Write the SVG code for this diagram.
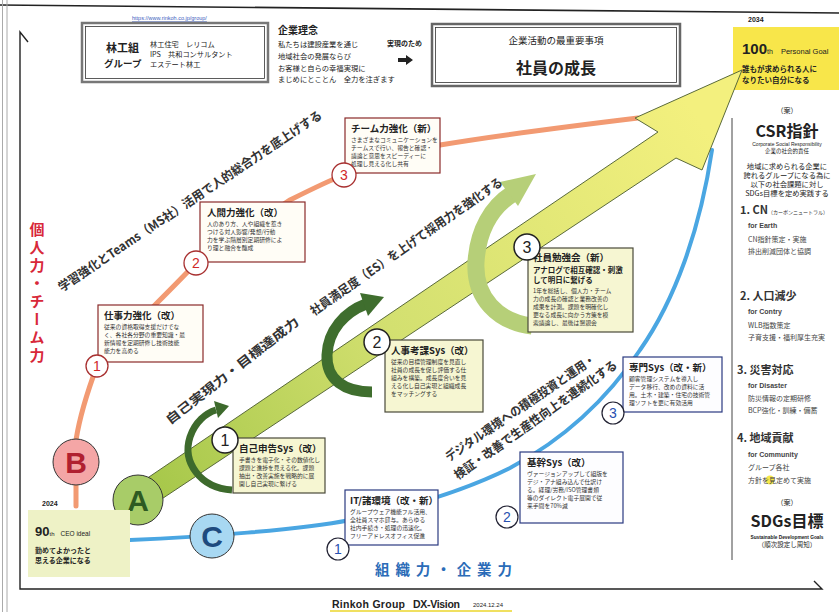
<svg xmlns="http://www.w3.org/2000/svg" width="839" height="612" viewBox="0 0 839 612">
<defs>
<style>
text{font-family:'Noto Sans CJK JP','Noto Sans',sans-serif;fill:#222}
.b{font-weight:bold}
.body{font-size:5.8px;fill:#333}
.ttl{font-size:9.5px;font-weight:bold;fill:#222}
.rbox{fill:#fffdf6;stroke:#8a2a2a;stroke-width:1.2}
.ybox{fill:#f6f6d2;stroke:#4a4a3a;stroke-width:1.2}
.bbox{fill:#fdfdff;stroke:#2a3a80;stroke-width:1.2}
.rc{fill:#fff;stroke:#a83030;stroke-width:1.3}
.rn{font-family:'Liberation Sans',sans-serif;font-size:14px;fill:#d02828;text-anchor:middle}
.yc{fill:#fff;stroke:#222;stroke-width:1.5}
.yn{font-family:'Liberation Sans',sans-serif;font-size:16px;fill:#222;text-anchor:middle}
.bc{fill:#fff;stroke:#223;stroke-width:1.2}
.bn{font-family:'Liberation Sans',sans-serif;font-size:14px;fill:#2850b0;text-anchor:middle}
.diag{font-size:12.5px;font-weight:bold;fill:#333}
.csr{font-size:7px;fill:#444}
.csrh{font-size:11px;font-weight:bold;fill:#333}
.lat{font-family:'Liberation Sans',sans-serif}
.big{font-family:'Liberation Sans',sans-serif;font-weight:bold;font-size:30px;text-anchor:middle}
</style>
<linearGradient id="shaft" gradientUnits="userSpaceOnUse" x1="140" y1="500" x2="700" y2="120">
<stop offset="0" stop-color="#a4c648"/>
<stop offset="0.45" stop-color="#d3e070"/>
<stop offset="1" stop-color="#f3f07e"/>
</linearGradient>
</defs>
<rect width="839" height="612" fill="#fff"/>

<g id="frame" fill="none">
<line x1="0" y1="5" x2="839" y2="13" stroke="#222" stroke-width="1.6"/>
<line x1="2.5" y1="0" x2="2.5" y2="612" stroke="#aaa" stroke-width="1"/>
<line x1="7" y1="0" x2="7" y2="612" stroke="#aaa" stroke-width="1"/>
<polyline points="28,42 20,32 20,589 822,589 814,581" stroke="#222" stroke-width="1.4"/>
<line x1="732" y1="118" x2="732" y2="560" stroke="#444" stroke-width="1"/>
</g>

<g id="header-group">
<text x="132" y="20" class="lat" font-size="5.5" text-decoration="underline" style="fill:#4060c0">https://www.rinkoh.co.jp/group/</text>
<rect x="82" y="23" width="186" height="59" fill="#fff" stroke="#777" stroke-width="2.5"/>
<rect x="85.5" y="26.5" width="179" height="52" fill="none" stroke="#333" stroke-width="0.8"/>
<text x="106" y="52" class="b" font-size="11">林工組</text>
<text x="104" y="67" class="b" font-size="9.5">グループ</text>
<text x="150" y="47" font-size="7.2">林工住宅　レリコム</text>
<text x="150" y="57" font-size="7.2">IPS　共和コンサルタント</text>
<text x="150" y="67" font-size="7.2">エステート林工</text>
</g>

<g id="philosophy">
<text x="278" y="34" class="b" font-size="10">企業理念</text>
<text x="278" y="47" font-size="7.3">私たちは建設産業を通じ</text>
<text x="278" y="59" font-size="7.3">地域社会の発展ならび</text>
<text x="278" y="71" font-size="7.3">お客様と自らの幸福実現に</text>
<text x="278" y="82" font-size="7.3">まじめにとことん　全力を注ぎます</text>
<text x="387" y="46" class="b" font-size="7">実現のため</text>
<polygon points="398,58 406,58 406,55 413,60 406,65 406,62 398,62" fill="#222"/>
</g>

<g id="priority">
<rect x="432" y="24" width="248" height="62" fill="#fff" stroke="#666" stroke-width="2.5"/>
<rect x="435.5" y="27.5" width="241" height="55" fill="none" stroke="#333" stroke-width="0.8"/>
<text x="556" y="44" font-size="9.5" text-anchor="middle">企業活動の最重要事項</text>
<text x="556" y="74" class="b" font-size="16" text-anchor="middle">社員の成長</text>
</g>

<g id="goal-2034">
<text x="748" y="22" class="b lat" font-size="7">2034</text>
<rect x="733" y="27" width="106" height="63" fill="#f8e64a"/>
<text x="742" y="54" class="b lat" font-size="15">100<tspan font-size="7" font-weight="normal">th</tspan><tspan font-size="7.5" font-weight="normal" dx="8">Personal Goal</tspan></text>
<text x="742" y="72" class="b" font-size="7.5">誰もが求められる人に</text>
<text x="742" y="83" class="b" font-size="7.5">なりたい自分になる</text>
</g>

<g id="connectors" fill="none" stroke-linecap="round">
<path d="M76,506 L76,440 C80,415 88,390 97,366 L150,310 C170,290 185,275 196,263 L290,200 C310,190 330,180 344,175 L440,145 C500,135 580,125 638,118" stroke="#f29a72" stroke-width="5"/>
<path d="M130,540 C200,537 300,530 350,520 C420,505 470,488 510,468 C570,436 610,395 640,350 C675,300 700,230 712,150" stroke="#4aa6e2" stroke-width="4"/>
</g>

<g id="main-arrow">
<polygon points="130,520 118,498 658,132 635,118 742,70 702,170 676,158" fill="url(#shaft)" stroke="#5a6a3a" stroke-width="1"/>
</g>

<g id="cycle-arrows">
<path d="M232,490 C200,488 182,462 190,437 C195,422 206,413 216,410" fill="none" stroke="#3d6a2c" stroke-width="7"/>
<polygon points="214,401 229,406 218,418" fill="#3d6a2c"/>
<path d="M372,392 C345,392 326,380 327,355 C328,330 345,312 366,304" fill="none" stroke="#3f6e2e" stroke-width="11"/>
<polygon points="360,293 384,297 368,316" fill="#3f6e2e"/>
<path d="M532,326 C498,322 474,298 476,262 C478,230 492,207 512,194" fill="none" stroke="#b6cf78" stroke-width="17"/>
<polygon points="500,182 536,174 518,206" fill="#b6cf78"/>
</g>

<g id="node-B"><circle cx="76" cy="462" r="23" fill="#f4a6a6" stroke="#333" stroke-width="1"/><text x="76" y="473" class="big" style="fill:#b02030">B</text></g>
<g id="node-A"><circle cx="138" cy="500" r="25" fill="#a8cc68" stroke="#333" stroke-width="1"/><text x="138" y="511" class="big" style="fill:#2e5a22">A</text></g>
<g id="node-C"><circle cx="212" cy="536" r="22" fill="#a8d8f2" stroke="#333" stroke-width="1"/><text x="212" y="547" class="big" style="fill:#1e4a7e">C</text></g>

<g id="node-90th">
<text x="42" y="506" class="b lat" font-size="7">2024</text>
<rect x="28" y="510" width="102" height="67" fill="#eef2c6"/>
<text x="35" y="536" class="b lat" font-size="13">90<tspan font-size="6" font-weight="normal">th</tspan><tspan font-size="6.5" font-weight="normal" dx="6">CEO ideal</tspan></text>
<text x="35" y="553" class="b" font-size="7">勤めてよかったと</text>
<text x="35" y="563" class="b" font-size="7">思える企業になる</text>
</g>

<g id="node-work">
<rect x="98" y="305" width="105" height="57" class="rbox"/>
<text x="104" y="319" class="ttl">仕事力強化（改）</text>
<text x="104" y="329" class="body">従来の資格取得支援だけでな</text>
<text x="104" y="337" class="body">く、各社各分野の重要知識・最</text>
<text x="104" y="345" class="body">新情報を定期研修し技術技能</text>
<text x="104" y="353" class="body">能力を高める</text>
<circle cx="97" cy="366" r="11" class="rc"/><text x="97" y="371" class="rn">1</text>
</g>
<g id="node-human">
<rect x="200" y="202" width="105" height="60" class="rbox"/>
<text x="207" y="216" class="ttl">人間力強化（改）</text>
<text x="207" y="226" class="body">人のあり方、人や組織を惹き</text>
<text x="207" y="234" class="body">つける対人影響/発想/行動</text>
<text x="207" y="242" class="body">力を学ぶ階層別定期研修によ</text>
<text x="207" y="250" class="body">り理と融合を醸成</text>
<circle cx="196" cy="263" r="12" class="rc"/><text x="196" y="268" class="rn">2</text>
</g>
<g id="node-team">
<rect x="345" y="118" width="95" height="55" class="rbox"/>
<text x="351" y="132" class="ttl">チーム力強化（新）</text>
<text x="351" y="142" class="body">さまざまなコミュニケーションを</text>
<text x="351" y="150" class="body">チームスで行い、報告と確認・</text>
<text x="351" y="158" class="body">議論と意思をスピーディーに</text>
<text x="351" y="166" class="body">処理し見える化し共有</text>
<circle cx="344" cy="175" r="12" class="rc"/><text x="344" y="180" class="rn">3</text>
</g>

<g id="node-self">
<rect x="233" y="438" width="92" height="55" class="ybox"/>
<text x="239" y="452" class="ttl">自己申告Sys（改）</text>
<text x="239" y="462" class="body">手書きを電子化・その数値化し</text>
<text x="239" y="470" class="body">課題と進捗を見える化。課題</text>
<text x="239" y="478" class="body">抽出・改善実施を戦略的に展</text>
<text x="239" y="486" class="body">開し自己実現に繋げる</text>
<circle cx="225" cy="440" r="13" class="yc"/><text x="225" y="446" class="yn">1</text>
</g>
<g id="node-eval">
<rect x="385" y="340" width="98" height="72" class="ybox"/>
<text x="391" y="354" class="ttl">人事考課Sys（改）</text>
<text x="391" y="364" class="body">従来の目標管理制度を見直し</text>
<text x="391" y="372" class="body">社員の成長を促し評価する仕</text>
<text x="391" y="380" class="body">組みを構築。成長度合いを見</text>
<text x="391" y="388" class="body">える化し自己実現と組織成長</text>
<text x="391" y="396" class="body">をマッチングする</text>
<circle cx="377" cy="342" r="13" class="yc"/><text x="377" y="348" class="yn">2</text>
</g>
<g id="node-study">
<rect x="528" y="248" width="105" height="84" class="ybox"/>
<text x="533" y="261" class="ttl">社員勉強会（新）</text>
<text x="533" y="273" class="b" font-size="7.5">アナログで相互確認・刺激</text>
<text x="533" y="283" class="b" font-size="7.5">して明日に繋げる</text>
<text x="533" y="293" class="body">1年を総括し、個人力・チーム</text>
<text x="533" y="301" class="body">力の成長の確認と業務改善の</text>
<text x="533" y="309" class="body">成果を計測。課題を明確化し</text>
<text x="533" y="317" class="body">更なる成長に向かう方策を模</text>
<text x="533" y="325" class="body">索議論し、最後は懇親会</text>
<circle cx="527" cy="247" r="13" class="yc"/><text x="527" y="253" class="yn">3</text>
</g>

<g id="node-it">
<rect x="345" y="490" width="93" height="55" class="bbox"/>
<text x="350" y="504" class="ttl">IT/諸環境（改・新）</text>
<text x="350" y="514" class="body">グループウェア機能フル活用、</text>
<text x="350" y="522" class="body">全社員スマホ貸与。あらゆる</text>
<text x="350" y="530" class="body">社内手続き・処理の迅速化。</text>
<text x="350" y="538" class="body">フリーアドレスオフィス促進</text>
<circle cx="338" cy="549" r="11" class="bc"/><text x="338" y="554" class="bn">1</text>
</g>
<g id="node-core">
<rect x="520" y="452" width="103" height="71" class="bbox"/>
<text x="527" y="466" class="ttl">基幹Sys（改）</text>
<text x="527" y="476" class="body">ヴァージョンアップして組版を</text>
<text x="527" y="484" class="body">デジ・アナ組み込んで仕訳け</text>
<text x="527" y="492" class="body">る。経理/労務/ISO管理書類</text>
<text x="527" y="500" class="body">等のダイレクト電子展開で従</text>
<text x="527" y="508" class="body">来手間を70%減</text>
<circle cx="507" cy="517" r="11" class="bc"/><text x="507" y="522" class="bn">2</text>
</g>
<g id="node-special">
<rect x="623" y="357" width="99" height="55" class="bbox"/>
<text x="629" y="371" class="ttl">専門Sys（改・新）</text>
<text x="629" y="381" class="body">顧客管理システムを導入し</text>
<text x="629" y="389" class="body">データ移行、改めの資料に活</text>
<text x="629" y="397" class="body">用。土木・建築・住宅の技術管</text>
<text x="629" y="405" class="body">理ソフトを更に有効活用</text>
<circle cx="613" cy="413" r="11" class="bc"/><text x="613" y="418" class="bn">3</text>
</g>

<g id="labels">
<text class="diag" transform="translate(62,292) rotate(-33.8)" textLength="314" lengthAdjust="spacingAndGlyphs">学習強化とTeams（MS社）活用で人的総合力を底上げする</text>
<text class="diag" transform="translate(314,316) rotate(-34.8)" textLength="231" lengthAdjust="spacingAndGlyphs">社員満足度（ES）を上げて採用力を強化する</text>
<text class="diag" font-size="14" transform="translate(170,425) rotate(-38)" textLength="165" lengthAdjust="spacingAndGlyphs">自己実現力・目標達成力</text>
<text class="diag" font-size="11.5" transform="translate(449,462) rotate(-34.3)" textLength="179" lengthAdjust="spacingAndGlyphs">デジタル環境への積極投資と運用・</text>
<text class="diag" font-size="11.5" transform="translate(458,480) rotate(-35.2)" textLength="196" lengthAdjust="spacingAndGlyphs">検証・改善で生産性向上を連続化する</text>
<text x="37" y="222" class="b" font-size="15" style="fill:#d8283a;writing-mode:vertical-rl;letter-spacing:3px">個人力・チーム力</text>
<text x="375" y="575" class="b" font-size="14.5" style="fill:#2b6cb8" textLength="137">組織力・企業力</text>
</g>

<g id="csr">
<text x="787" y="113" text-anchor="middle" font-size="7" fill="#333">（案）</text>
<text x="787" y="137" text-anchor="middle" class="b" font-size="16">CSR指針</text>
<text x="787" y="146" text-anchor="middle" class="lat" font-size="5">Corporate Social Responsibility</text>
<text x="787" y="153" text-anchor="middle" font-size="5.5">企業の社会的責任</text>
<text x="787" y="169" text-anchor="middle" font-size="7.3" fill="#333">地域に求められる企業に</text>
<text x="787" y="178" text-anchor="middle" font-size="7.3" fill="#333">誇れるグループになる為に</text>
<text x="787" y="187" text-anchor="middle" font-size="7.3" fill="#333">以下の社会課題に対し</text>
<text x="787" y="196" text-anchor="middle" font-size="7.3" fill="#333">SDGs目標を定め実践する</text>
<text x="740" y="214" class="csrh">1. CN<tspan font-size="5" font-weight="normal">（カーボンニュートラル）</tspan></text>
<text x="748" y="228" class="lat csr b">for Earth</text>
<text x="748" y="242" class="csr">CN指針策定・実施</text>
<text x="748" y="254" class="csr">排出削減団体と協調</text>
<text x="740" y="300" class="csrh">2. 人口減少</text>
<text x="748" y="314" class="lat csr b">for Contry</text>
<text x="748" y="328" class="csr">WLB指数策定</text>
<text x="748" y="340" class="csr">子育支援・福利厚生充実</text>
<text x="737" y="374" class="csrh">3. 災害対応</text>
<text x="748" y="388" class="lat csr b">for Disaster</text>
<text x="748" y="401" class="csr">防災情報の定期研修</text>
<text x="748" y="413" class="csr">BCP強化・訓練・備蓄</text>
<text x="737" y="442" class="csrh">4. 地域貢献</text>
<text x="748" y="457" class="lat csr b">for Community</text>
<circle cx="770" cy="480" r="4.5" fill="#f6e84a"/>
<text x="748" y="470" class="csr">グループ各社</text>
<text x="748" y="483" class="csr">方針を見定めて実施</text>
<text x="787" y="505" text-anchor="middle" font-size="7" fill="#333">（案）</text>
<text x="787" y="527" text-anchor="middle" class="b" font-size="16">SDGs目標</text>
<text x="787" y="539" text-anchor="middle" class="lat b" font-size="4.8">Sustainable Development Goals</text>
<text x="787" y="547" text-anchor="middle" font-size="6.5">（順次設定し周知）</text>
</g>

<g id="footer">
<line x1="330" y1="611" x2="512" y2="611" stroke="#f0e060" stroke-width="2"/>
<text x="332" y="608" class="lat b" font-size="10.5" textLength="73">Rinkoh Group</text>
<text x="413" y="608" class="lat b" font-size="10.5" textLength="47">DX-Vision</text>
<text x="473" y="607" class="lat" font-size="6">2024.12.24</text>
</g>
</svg>
